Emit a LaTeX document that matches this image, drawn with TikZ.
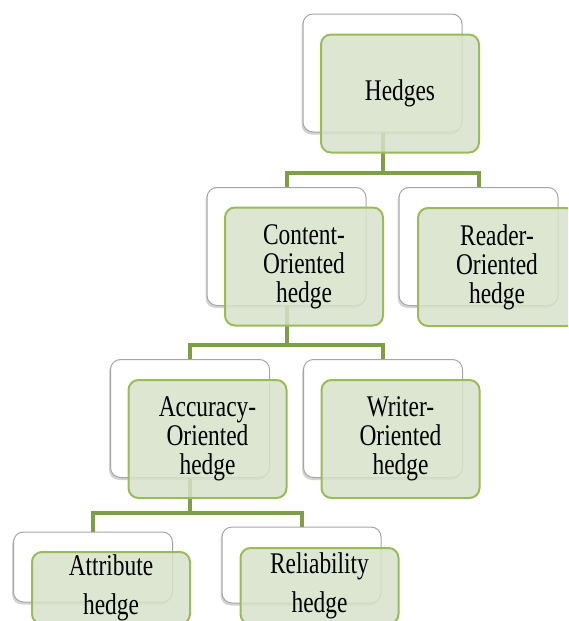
\documentclass[tikz,border=0pt]{standalone}
\usepackage{fontspec}
\setmainfont{Liberation Serif}
\newfontfamily\boxfont[FakeStretch=0.78]{Liberation Serif}
\usepackage{xcolor}
\usepackage{tikz}
\usetikzlibrary{shadows}

\definecolor{leafline}{RGB}{155,187,89}
\definecolor{leaffill}{RGB}{215,226,202}
\definecolor{stemline}{RGB}{126,158,72}

\tikzset{
  backbox/.style={draw=gray!70, line width=1pt, fill=white, rounded corners=10pt,
    minimum width=159pt, minimum height=118pt, inner sep=0pt,
    drop shadow={shadow xshift=-1.5pt, shadow yshift=-2.5pt, opacity=0.35}},
  frontbox/.style={draw=leafline, line width=2pt, fill=leaffill, fill opacity=0.85, text opacity=1,
    rounded corners=10pt, minimum width=158pt, minimum height=118pt, inner sep=0pt,
    align=center, font=\boxfont\fontsize{30}{29}\selectfont},
  link/.style={stemline, line width=4pt}
}

\begin{document}
\begin{tikzpicture}[x=1pt, y=-1pt]
      \useasboundingbox (0,0) rectangle (568,621);
      \clip (0,0) rectangle (568,621);

      % White boxes behind
      \node[backbox] (hedgesback) at (382.5,73) {};
      \node[backbox] (contentback) at (286.5,246.5) {};
      \node[backbox] (readerback) at (478.5,246.5) {};
      \node[backbox] (accuracyback) at (190,418.5) {};
      \node[backbox] (writerback) at (383,418.5) {};
      \node[backbox, minimum height=70pt] (attributeback) at (93,567) {};
      \node[backbox, minimum height=76pt] (reliabilityback) at (301.5,565) {};

      % Tree links
      \draw[link] (hedgesback.south) -- ++(0,40) -| (contentback.north);
      \draw[link] (hedgesback.south) -- ++(0,40) -| (readerback.north);
      \draw[link] (contentback.south) -- ++(0,38.5) -| (accuracyback.north);
      \draw[link] (contentback.south) -- ++(0,38.5) -| (writerback.north);
      \draw[link] (accuracyback.south) -- ++(0,34.5) -| (attributeback.north);
      \draw[link] (accuracyback.south) -- ++(0,34.5) -| (reliabilityback.north);

      % Green boxes with the labels
      \node[frontbox] (hedges) at (400,93.5) {Hedges};
      \node[frontbox] (content) at (304,266.5) {Content-\\Oriented\\hedge};
      \node[frontbox] (reader) at (497,267) {Reader-\\Oriented\\hedge};
      \node[frontbox] (accuracy) at (207.5,439) {Accuracy-\\Oriented\\hedge};
      \node[frontbox] (writer) at (400.5,439) {Writer-\\Oriented\\hedge};
      \node[frontbox, minimum height=72pt, font=\boxfont\fontsize{30}{39}\selectfont] (attribute) at (111,588) {Attribute\\hedge};
      \node[frontbox, minimum height=76pt, font=\boxfont\fontsize{30}{39}\selectfont] (reliability) at (319.5,586) {Reliability\\hedge};
\end{tikzpicture}
\end{document}
